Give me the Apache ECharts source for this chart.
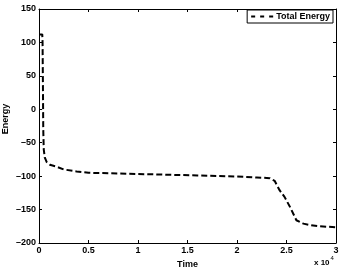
<!DOCTYPE html>
<html><head><meta charset="utf-8">
<script src="https://cdn.jsdelivr.net/npm/echarts@6/dist/echarts.min.js"></script>
<style>html,body{margin:0;padding:0;background:#fff}#c{width:342px;height:269px}</style>
</head><body><div id="c"></div>
<script>
const time = [0, 330, 360, 400, 430, 480, 580, 780, 1100, 1800, 2500, 3800, 5000, 8000, 12000, 16000, 20000, 22000, 23300, 23800, 24300, 24800, 25350, 26000, 26700, 27500, 28400, 30000];
const energy = [112, 112, 100, 30, -30, -60, -72, -79, -83, -86, -90, -93, -95, -96, -97.5, -99, -100.5, -102, -103, -107, -121, -131, -146, -166, -171, -173.5, -175, -176.5];
const seriesName = 'Total Energy';
const xTicks = [0, 5000, 10000, 15000, 20000, 25000, 30000];
const yTicks = [-200, -150, -100, -50, 0, 50, 100, 150];

const font = 'Liberation Sans, Arial, Helvetica, sans-serif';
const chart = echarts.init(document.getElementById('c'), null, {renderer: 'canvas'});
const axLine = {show: true, onZero: false, lineStyle: {color: '#000', width: 1}};
const tick = {show: true, inside: true, length: 3, lineStyle: {color: '#000', width: 1}};
const lbl = {color: '#000', fontSize: 9, fontWeight: 'bold', fontFamily: font};
chart.setOption({
  animation: false,
  grid: {left: 39, right: 6, top: 9, bottom: 26, containLabel: false, outerBoundsMode: 'none'},
  xAxis: [{
    type: 'value', min: 0, max: 30000, interval: 5000,
    axisLine: axLine, axisTick: tick, splitLine: {show: false},
    axisLabel: Object.assign({}, lbl, {margin: 3, formatter: v => String(v / 10000)}),
    name: 'Time', nameLocation: 'middle', nameGap: 13,
    nameTextStyle: {color: '#000', fontSize: 9, fontWeight: 'bold', fontFamily: font}
  }, {
    type: 'value', position: 'top', min: 0, max: 30000, interval: 5000,
    axisLine: axLine, axisTick: tick, axisLabel: {show: false}, splitLine: {show: false}
  }],
  yAxis: [{
    type: 'value', min: -200, max: 150, interval: 50,
    axisLine: axLine, axisTick: tick, splitLine: {show: false},
    axisLabel: Object.assign({}, lbl, {margin: 3, formatter: v => String(v).replace('-', '\u2013')})
  }, {
    type: 'value', position: 'right', min: -200, max: 150, interval: 50,
    axisLine: axLine, axisTick: tick, axisLabel: {show: false}, splitLine: {show: false}
  }],
  legend: {
    right: 9, top: 10, padding: [2, 3, 2, 3],
    borderColor: '#000', borderWidth: 1, backgroundColor: '#fff',
    itemWidth: 23, itemHeight: 8, itemGap: 2,
    itemStyle: {opacity: 0},
    lineStyle: {color: '#000', width: 2, type: [4, 5]},
    textStyle: {color: '#000', fontSize: 9, fontWeight: 'bold', fontFamily: font, padding: [0, 0, 0, -3]},
    data: [{name: seriesName}]
  },
  graphic: [{
    type: 'text', x: 6, y: 119, rotation: Math.PI / 2,
    style: {
      text: 'Energy', fontSize: 9, fontWeight: 'bold', fontFamily: font, fill: '#000',
      align: 'center', verticalAlign: 'middle'
    }
  }, {
    type: 'text', left: 314, top: 255,
    style: {
      text: '{a|x 10}{b|4}',
      rich: {
        a: {fontSize: 8, fontWeight: 'bold', fontFamily: font, fill: '#000', verticalAlign: 'bottom'},
        b: {fontSize: 6, fontFamily: font, fill: '#000', verticalAlign: 'top', padding: [0, 0, 6, 1]}
      }
    }
  }],
  series: [{
    name: seriesName, type: 'line', symbol: 'none', showSymbol: false,
    data: time.map((t, i) => [t, energy[i]]),
    lineStyle: {color: '#000', width: 2, type: [6, 3]},
    itemStyle: {color: '#000'}
  }]
});
</script></body></html>
